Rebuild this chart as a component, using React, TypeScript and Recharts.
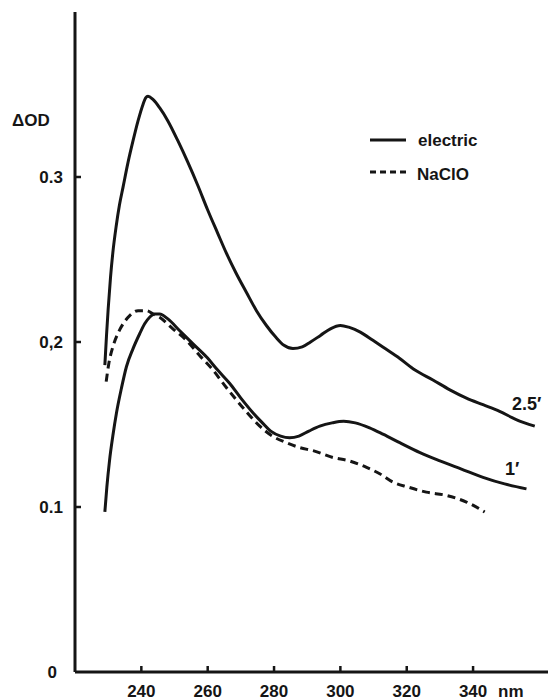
import React from "react";
import { LineChart, Line, XAxis, YAxis } from "recharts";

// wavelength (nm) and ΔOD
const electric25Nm = [229.0, 229.5, 230.0, 230.7, 231.4, 232.4, 233.4, 234.5, 236.0, 237.5, 239.0, 240.5, 241.3, 242.0, 243.5, 245.5, 248.0, 251.0, 254.0, 257.0, 260.0, 263.0, 265.6, 268.5, 271.7, 274.7, 277.7, 280.5, 283.0, 285.7, 288.5, 291.0, 294.0, 297.0, 300.0, 302.5, 306.0, 309.8, 313.5, 317.9, 322.5, 327.9, 333.0, 338.0, 343.0, 348.0, 353.0, 358.6];
const electric25Od = [0.186, 0.204, 0.220, 0.239, 0.254, 0.270, 0.283, 0.294, 0.309, 0.322, 0.334, 0.344, 0.348, 0.349, 0.347, 0.342, 0.334, 0.322, 0.309, 0.295, 0.280, 0.266, 0.254, 0.242, 0.230, 0.219, 0.210, 0.203, 0.198, 0.196, 0.197, 0.200, 0.204, 0.208, 0.210, 0.209, 0.206, 0.201, 0.196, 0.190, 0.183, 0.177, 0.171, 0.166, 0.162, 0.158, 0.153, 0.149];

const electric1Nm = [229.0, 229.6, 230.4, 231.4, 232.5, 234.0, 235.5, 237.5, 239.5, 241.0, 242.5, 244.0, 245.5, 248.0, 251.5, 255.5, 259.6, 263.0, 266.6, 270.0, 273.7, 276.5, 279.0, 282.0, 284.7, 287.5, 290.5, 293.8, 297.5, 301.0, 304.5, 308.8, 313.0, 317.9, 324.0, 330.0, 336.5, 343.0, 349.5, 356.1];
const electric1Od = [0.097, 0.112, 0.128, 0.143, 0.157, 0.172, 0.185, 0.196, 0.205, 0.211, 0.215, 0.217, 0.217, 0.214, 0.207, 0.199, 0.191, 0.183, 0.175, 0.166, 0.157, 0.151, 0.146, 0.143, 0.142, 0.143, 0.146, 0.149, 0.151, 0.152, 0.151, 0.148, 0.144, 0.139, 0.133, 0.128, 0.123, 0.118, 0.114, 0.111];

const naclNm = [229.4, 230.2, 231.4, 232.9, 234.5, 236.5, 239.0, 241.5, 243.5, 245.5, 249.5, 253.6, 257.5, 261.6, 265.0, 268.6, 272.0, 275.7, 279.5, 283.7, 287.7, 292.0, 297.8, 302.5, 307.9, 312.0, 315.9, 320.5, 325.9, 332.0, 338.0, 343.5];
const naclOd = [0.176, 0.187, 0.197, 0.205, 0.211, 0.216, 0.219, 0.219, 0.217, 0.215, 0.208, 0.201, 0.192, 0.183, 0.174, 0.165, 0.157, 0.149, 0.143, 0.139, 0.136, 0.134, 0.130, 0.128, 0.124, 0.120, 0.115, 0.112, 0.109, 0.107, 0.103, 0.097];

const xTicks = [240, 260, 280, 300, 320, 340];
const yTicks = [0, 0.1, 0.2, 0.3];
const yTickLabels = ["0", "0.1", "0,2", "0.3"];

const toPoints = (nm: number[], od: number[]) => nm.map((x, i) => ({ x, y: od[i] }));

const INK = "#151515";
const FONT = "'Liberation Sans', Arial, sans-serif";
const W = 548;
const H = 692;
const X_MARGIN = 10;
const Y_MARGIN = 12;

const XTick = (props: any) => {
  const { x, y, payload } = props;
  const axisY = y - X_MARGIN;
  return (
    <g>
      <line x1={x} x2={x} y1={axisY} y2={axisY - 6} stroke={INK} strokeWidth={2.5} />
      <text x={x} y={axisY + 25} textAnchor="middle" fill={INK} fontFamily={FONT} fontWeight="bold" fontSize={17}>
        {payload.value}
      </text>
    </g>
  );
};

const YTick = (props: any) => {
  const { x, y, payload } = props;
  const axisX = x + Y_MARGIN;
  const idx = yTicks.indexOf(payload.value);
  return (
    <g>
      {payload.value !== 0 && (
        <line x1={axisX} x2={axisX + 6} y1={y} y2={y} stroke={INK} strokeWidth={2.5} />
      )}
      <text x={payload.value === 0 ? x - 6 : x} y={y} dy="0.36em" textAnchor="end" fill={INK} fontFamily={FONT} fontWeight="bold" fontSize={17}>
        {yTickLabels[idx]}
      </text>
    </g>
  );
};

export default function App() {
  const txt = { fill: INK, fontFamily: FONT, fontWeight: "bold" as const, fontSize: 17 };
  return (
    <div style={{ position: "relative", width: W, height: H, background: "#fff" }}>
      <LineChart width={W} height={H} margin={{ top: 4, right: 0, left: 0, bottom: 0 }}>
        <XAxis
          type="number"
          dataKey="x"
          domain={[220, 365]}
          allowDataOverflow
          ticks={xTicks}
          tickSize={0}
          tickMargin={X_MARGIN}
          tick={<XTick />}
          height={28}
          axisLine={{ stroke: INK, strokeWidth: 3 }}
        />
        <YAxis
          type="number"
          domain={[0, 0.4]}
          allowDataOverflow
          ticks={yTicks}
          tickSize={0}
          tickMargin={Y_MARGIN}
          tick={<YTick />}
          width={67}
          axisLine={{ stroke: INK, strokeWidth: 3 }}
        />
        <Line data={toPoints(electric25Nm, electric25Od)} dataKey="y" type="monotone" stroke={INK} strokeWidth={3} dot={false} isAnimationActive={false} />
        <Line data={toPoints(electric1Nm, electric1Od)} dataKey="y" type="monotone" stroke={INK} strokeWidth={3} dot={false} isAnimationActive={false} />
        <Line data={toPoints(naclNm, naclOd)} dataKey="y" type="monotone" stroke={INK} strokeWidth={3} strokeDasharray="8 5" dot={false} isAnimationActive={false} />
      </LineChart>
      <svg width={W} height={H} style={{ position: "absolute", left: 0, top: 0, pointerEvents: "none" }}>
        <text x={4} y={118} {...txt}>ΔOD</text>
        <line x1={362} x2={398} y1={132} y2={132} stroke={INK} strokeWidth={3} />
        <text x={410} y={138} {...txt}>electric</text>
        <line x1={362} x2={398} y1={164} y2={164} stroke={INK} strokeWidth={3} strokeDasharray="6 4" />
        <text x={409} y={172} {...txt}>NaClO</text>
        <text x={504} y={402} {...txt} fontSize={18}>2.5′</text>
        <text x={497} y={467} {...txt} fontSize={18}>1′</text>
        <text x={490} y={689} {...txt}>nm</text>
      </svg>
    </div>
  );
}
